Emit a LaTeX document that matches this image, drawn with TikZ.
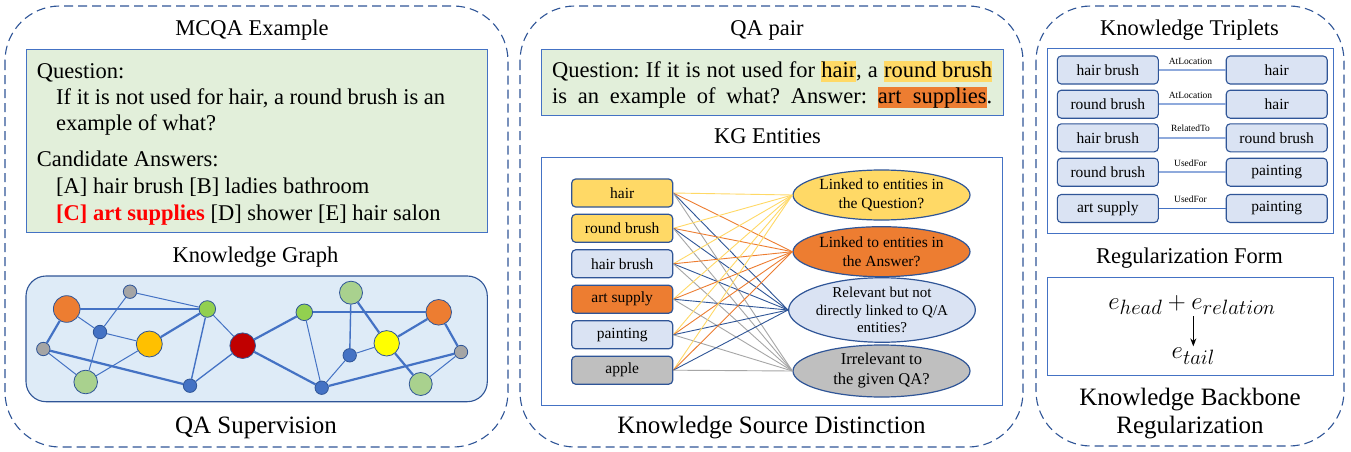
\documentclass[tikz,border=0pt]{standalone}
\usepackage{fontspec}
\setmainfont{Liberation Serif}
\usetikzlibrary{shapes.geometric,arrows.meta,calc}
\DeclareMathSizes{27}{27}{20}{15}
\frenchspacing
\definecolor{dblue}{HTML}{2F5597}
\definecolor{mblue}{HTML}{4472C4}
\definecolor{sblue}{HTML}{8FAADC}
\definecolor{lgreen}{HTML}{E2EFDA}
\definecolor{lblue}{HTML}{DAE3F3}
\definecolor{kgblue}{HTML}{DEEBF7}
\definecolor{yel}{HTML}{FFD966}
\definecolor{ora}{HTML}{ED7D31}
\definecolor{gry}{HTML}{BFBFBF}
\definecolor{lgry}{HTML}{A6A6A6}
\definecolor{ngray}{HTML}{A5A5A5}
\definecolor{ngreen}{HTML}{92D050}
\definecolor{nlgreen}{HTML}{A9D18E}
\definecolor{ngold}{HTML}{FFC000}
\definecolor{nyellow}{HTML}{FFFF00}
\definecolor{nred}{HTML}{C00000}
\definecolor{ared}{HTML}{FF0000}
\newcommand{\hlbox}[2]{{\setlength{\fboxsep}{0pt}\colorbox{#1}{\rule[-4.5pt]{0pt}{21pt}#2}}}
\tikzset{
  panel/.style={draw=dblue, line width=1.1pt, dash pattern=on 9pt off 5pt, rounded corners=55pt},
  tx/.style={font=\fontsize{22.5}{26}\selectfont, inner sep=0pt},
  bigt/.style={font=\fontsize{25}{29}\selectfont, inner sep=0pt},
  gbox/.style={draw=mblue, line width=0.9pt, fill=lgreen},
  wbox/.style={draw=mblue, line width=0.9pt, fill=white},
  gn/.style={circle, draw=dblue, line width=0.8pt, inner sep=0pt, minimum size=#1},
  thk/.style={draw=mblue, line width=2.2pt},
  thn/.style={draw=mblue, line width=1pt},
  ent/.style={rectangle, rounded corners=4pt, draw=dblue, line width=1.2pt, minimum width=101pt, minimum height=28pt, inner sep=0pt, font=\fontsize{15.5}{18}\selectfont},
  ell/.style={ellipse, draw=dblue, line width=1.2pt, inner sep=0pt, align=center, font=\fontsize{15.5}{19}\selectfont},
  trip/.style={rectangle, rounded corners=4pt, draw=dblue, line width=1.1pt, fill=lblue, minimum width=101pt, minimum height=28pt, inner sep=0pt, font=\fontsize{15.5}{18}\selectfont},
  rel/.style={font=\fontsize{9.5}{11}\selectfont, inner sep=0pt, anchor=base},
  mth/.style={font=\fontsize{27}{32}\selectfont, inner sep=0pt, anchor=base},
  ln/.style={line width=0.9pt}
}
\begin{document}
\begin{tikzpicture}[x=1pt,y=-1pt]
\useasboundingbox (0,0) rectangle (1351,452);
% panels
\draw[panel] (5,6) rectangle (508,447);
\draw[panel] (520,6) rectangle (1023,447);
\draw[panel] (1036,6) rectangle (1344,446);

%%%%% Panel 1
\node[tx, anchor=base] (t1) at (252,36) {MCQA Example};
\draw[gbox] (26,49.3) rectangle (487.3,232.7);
\node[tx, anchor=base west] (q1) at (36.7,78) {Question:};
\node[tx, anchor=base west] (q2) at (56,104) {If it is not used for hair, a round brush is an};
\node[tx, anchor=base west] (q3) at (56,130) {example of what?};
\node[tx, anchor=base west] (c1) at (36.7,166.7) {Candidate Answers:};
\node[tx, anchor=base west] (c2) at (56,193.3) {[A] hair brush [B] ladies bathroom};
\node[tx, anchor=base west] (c3) at (56,220) {\textcolor{ared}{\textbf{[C] art supplies}} [D] shower [E] hair salon};
\node[tx, anchor=base] (t2) at (255.5,262.7) {Knowledge Graph};
\draw[draw=dblue, line width=1.1pt, fill=kgblue, rounded corners=20pt] (26,276) rectangle (487.3,401.7);
% graph nodes
\node[gn=26.6pt, fill=ora] (o1) at (66.7,309) {};
\node[gn=13.4pt, fill=ngray] (g1) at (130,291.7) {};
\node[gn=16.6pt, fill=ngreen] (k1) at (207.3,309) {};
\node[gn=13.4pt, fill=mblue] (b1) at (100,332) {};
\node[gn=26pt, fill=ngold] (y1) at (149.3,344) {};
\node[gn=13.4pt, fill=ngray] (g2) at (43.3,349) {};
\node[gn=23.6pt, fill=nlgreen] (l1) at (85.7,382) {};
\node[gn=13.4pt, fill=mblue] (b2) at (190,385.7) {};
\node[gn=25.6pt, fill=nred] (rd) at (242.7,345.7) {};
\node[gn=16.6pt, fill=ngreen] (k2) at (304.3,312.3) {};
\node[gn=23pt, fill=nlgreen] (l2) at (351,292.7) {};
\node[gn=25.6pt, fill=ora] (o2) at (438.7,312.3) {};
\node[gn=13.4pt, fill=mblue] (b3) at (349.7,355.3) {};
\node[gn=25.4pt, fill=nyellow] (y2) at (386.7,343.3) {};
\node[gn=13.4pt, fill=ngray] (g3) at (461,352) {};
\node[gn=13.4pt, fill=mblue] (b4) at (321.7,387.7) {};
\node[gn=23pt, fill=nlgreen] (l3) at (420.7,384) {};
% graph edges
\draw[thk] (o1) -- (k1);
\draw[thk] (o1) -- (g2);
\draw[thk] (y1) -- (k1);
\draw[thk] (g2) -- (b2);
\draw[thk] (rd) -- (k2);
\draw[thk] (rd) -- (b4);
\draw[thk] (k2) -- (o2);
\draw[thk] (l2) -- (y2);
\draw[thk] (y2) -- (o2);
\draw[thk] (y2) -- (l3);
\draw[thk] (o2) -- (g3);
\draw[thk] (g3) -- (b4);
\draw[thn] (o1) -- (b1);
\draw[thn] (g1) -- (b1);
\draw[thn] (g1) -- (k1);
\draw[thn] (b1) -- (y1);
\draw[thn] (b1) -- (l1);
\draw[thn] (y1) -- (l1);
\draw[thn] (g2) -- (l1);
\draw[thn, line width=1.4pt] (k1) -- (b2);
\draw[thn] (k1) -- (rd);
\draw[thn, line width=1.3pt] (b2) -- (rd);
\draw[thn] (k2) -- (b4);
\draw[thn, line width=1.4pt] (l2) -- (b3);
\draw[thn] (y2) -- (b3);
\draw[thn] (g3) -- (l3);
\draw[thn] (b3) -- (b4);
\node[bigt, anchor=base] (t3) at (256,433) {QA Supervision};

%%%%% Panel 2
\node[tx, anchor=base] (t4) at (767,36) {QA pair};
\draw[gbox] (541.7,49.3) rectangle (1003.3,115);
\node[tx, anchor=base west] (p1) at (552,77.3) {\makebox[440pt][s]{Question: If it is not used for \hlbox{yel}{hair}, a \hlbox{yel}{round brush}}};
\node[tx, anchor=base west] (p2) at (552,103.3) {\makebox[440pt][s]{is an example of what? Answer: \hlbox{ora}{art\hspace{0.5em}supplies}.}};
\node[tx, anchor=base] (t5) at (767.5,143.3) {KG Entities};
\draw[wbox] (541.7,157.3) rectangle (1002.3,405);
\node[ent, fill=yel] (e1) at (622.2,193) {hair};
\node[ent, fill=yel] (e2) at (622.2,228.3) {round brush};
\node[ent, fill=lblue] (e3) at (622.2,263.8) {hair brush};
\node[ent, fill=ora] (e4) at (622.2,299.2) {art supply};
\node[ent, fill=lblue] (e5) at (622.2,334.8) {painting};
\node[ent, fill=gry] (e6) at (622.2,370.2) {apple};
\node[ell, fill=yel, minimum width=177pt, minimum height=50pt] (eq) at (881.5,195) {Linked to entities in\\the Question?};
\node[ell, fill=ora, minimum width=177pt, minimum height=50pt] (ea) at (881.5,251.7) {Linked to entities in\\the Answer?};
\node[ell, fill=lblue, minimum width=176pt, minimum height=57pt, font=\fontsize{15}{17.5}\selectfont] (er) at (882,310) {Relevant but not\\directly linked to Q/A\\entities?};
\node[ell, fill=gry, minimum width=177pt, minimum height=52pt, font=\fontsize{16.5}{20}\selectfont] (ei) at (881.5,371) {Irrelevant to\\the given QA?};
\foreach \e in {e1,e2,e3,e4,e5,e6}{
  \draw[ln, draw=yel] (\e.east) -- (eq.west);
  \draw[ln, draw=ora] (\e.east) -- (ea.west);
  \draw[ln, draw=dblue] (\e.east) -- (er.west);
  \draw[ln, draw=lgry] (\e.east) -- (ei.west);
}
\node[bigt, anchor=base] (t6) at (771.5,433) {Knowledge Source Distinction};

%%%%% Panel 3
\node[tx, anchor=base] (t7) at (1189.5,36) {Knowledge Triplets};
\draw[wbox] (1047.3,48.3) rectangle (1333.3,233.3);
\node[trip] (h1) at (1107.8,70) {hair brush};
\node[trip] (r1) at (1276.7,70) {hair};
\node[trip] (h2) at (1107.8,104.2) {round brush};
\node[trip] (r2) at (1276.7,104.2) {hair};
\node[trip] (h3) at (1107.8,137.8) {hair brush};
\node[trip] (r3) at (1276.7,137.8) {round brush};
\node[trip] (h4) at (1107.8,172.2) {round brush};
\node[trip] (r4) at (1276.7,172.2) {painting};
\node[trip] (h5) at (1107.8,208.5) {art supply};
\node[trip] (r5) at (1276.7,208.5) {painting};
\draw[draw=sblue, line width=1.6pt] (h1) -- (r1);
\draw[draw=sblue, line width=1.6pt] (h2) -- (r2);
\draw[draw=sblue, line width=2.6pt] (h3) -- (r3);
\draw[draw=sblue, line width=1.6pt] (h4) -- (r4);
\draw[draw=mblue, line width=1pt] (h5) -- (r5);
\node[rel] (a1) at (1190.5,64.5) {AtLocation};
\node[rel] (a2) at (1190.5,98.5) {AtLocation};
\node[rel] (a3) at (1190.5,131.5) {RelatedTo};
\node[rel] (a4) at (1190.5,166.5) {UsedFor};
\node[rel] (a5) at (1190.5,202.5) {UsedFor};
\node[tx, anchor=base] (t8) at (1189.5,263.3) {Regularization Form};
\draw[wbox] (1047.3,277.7) rectangle (1333.3,375);
\node[mth] (m1) at (1192,309) {$e_{head}+e_{relation}$};
\node[mth] (m2) at (1193.3,358.3) {$e_{tail}$};
\draw[-{Stealth[length=8pt,width=6pt]}, line width=1.2pt, shorten >=1pt] ($(m1.base -| m2.north)+(0,7)$) -- (m2.north);
\node[bigt, anchor=base] (t9) at (1190,405) {Knowledge Backbone};
\node[bigt, anchor=base] (t10) at (1190,433.3) {Regularization};
\end{tikzpicture}
\end{document}
